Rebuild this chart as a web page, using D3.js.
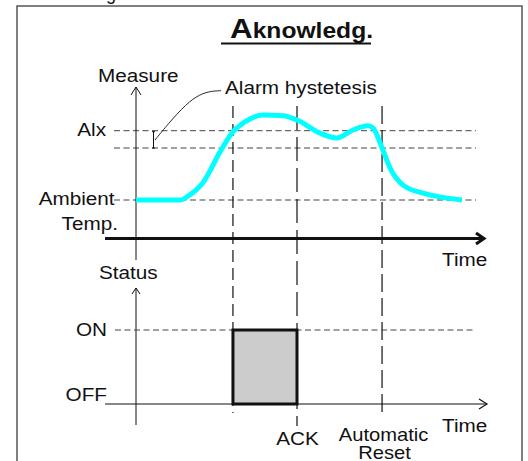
<!DOCTYPE html>
<html lang="en">
<head>
    <meta charset="UTF-8">
    <title>Aknowledg.</title>
    <script src="https://d3js.org/d3.v7.min.js"></script>
    <style>
        body { margin: 0; background: white; }
        text { font-family: "Liberation Sans", Arial, sans-serif; fill: #111; }
        .dash { stroke: #444; stroke-width: 1; stroke-dasharray: 6,3.5; fill: none; }
        .axis { stroke: #111; fill: none; }
    </style>
</head>
<body>
<div id="chart"></div>
<script>
    // measured curve (time units, measure units above ambient)
    const curveT = [0, 12.6, 15.1, 18.9, 24.3, 27.7, 30.6, 36.3, 42.0, 46.0, 52.6, 57.4, 62.0, 66.3, 67.7, 70.3, 72.6, 76.3, 82.0, 86.9, 93.1];
    const curveV = [0, 0, 1.3, 4.7, 14.4, 19.7, 22.2, 24.5, 24.3, 23.1, 19.3, 17.9, 20.2, 21.4, 20.8, 15.0, 9.2, 4.3, 2.0, 0.9, 0];

    // threshold levels
    const levelNames = ["Alx", "", "Ambient"];
    const levelValues = [20, 15, 0];

    // events on the time axis
    const eventT = [27.7, 46, 70.3];
    const eventNames = ["", "ACK", "Automatic"];
    const eventDash = ["12,6", "24,7", "18,6"];

    // status
    const statusNames = ["OFF", "ON"];
    const statusValues = [0, 1];
    const onStart = 27.7, onEnd = 46;

    const width = 528, height = 461;
    const svg = d3.select("#chart").append("svg")
        .attr("width", width).attr("height", height);

    const x = d3.scaleLinear().domain([0, 100]).range([136, 486]);
    const y = d3.scaleLinear().domain([0, 20]).range([200, 130.7]);
    const ys = d3.scaleLinear().domain([0, 1]).range([404, 330]);

    function label(px, py, str, anchor, size) {
        svg.append("text")
            .attr("transform", `translate(${px},${py}) scale(1.12,1)`)
            .attr("text-anchor", anchor || "start")
            .style("font-size", (size || 18.5) + "px")
            .text(str);
    }

    // frame
    svg.append("rect").attr("x", 17).attr("y", 6).attr("width", 505).attr("height", 470)
        .attr("fill", "none").attr("stroke", "#555").attr("stroke-width", 1.5);
    // clipped heading above the frame
    svg.append("text").attr("x", 106).attr("y", 0).style("font-size", "18px").text("g");

    // title
    const title = svg.append("text")
        .attr("transform", "translate(230,38) scale(1.12,1)")
        .style("font-weight", "bold");
    title.append("tspan").style("font-size", "28px").text("A");
    title.append("tspan").style("font-size", "22px").text("knowledg.");
    svg.append("line").attr("x1", 221).attr("x2", 371).attr("y1", 43.5).attr("y2", 43.5)
        .attr("stroke", "#111").attr("stroke-width", 2);

    // horizontal level lines
    levelValues.forEach((v, i) => {
        svg.append("line").attr("class", "dash")
            .attr("x1", 114).attr("x2", 476).attr("y1", y(v)).attr("y2", y(v));
        if (levelNames[i]) label(i === 2 ? 114.6 : 106, y(v) + 5, levelNames[i], "end");
    });
    label(118, y(0) + 30, "Temp.", "end");

    // event lines
    eventT.forEach((t, i) => {
        svg.append("line")
            .attr("x1", x(t)).attr("x2", x(t))
            .attr("y1", 106).attr("y2", i === 1 ? 426 : 413)
            .attr("stroke", "#111").attr("stroke-width", 1.2)
            .attr("stroke-dasharray", eventDash[i]);
    });

    // measure axis
    svg.append("line").attr("class", "axis").attr("x1", x(0)).attr("x2", x(0))
        .attr("y1", 87).attr("y2", 260);
    svg.append("path").attr("class", "axis")
        .attr("d", `M${x(0) - 5},${95} L${x(0)},${87} L${x(0) + 5},${95}`);
    label(98, 82, "Measure");

    // hysteresis bracket and leader
    svg.append("path").attr("class", "axis")
        .attr("d", `M152,${y(20) + 1} L155,${y(20) + 1} M153.5,${y(20) + 1} L153.5,${y(15)} M152,${y(15)} L155,${y(15)}`);
    svg.append("path").attr("class", "axis").attr("stroke-width", 0.9)
        .attr("d", d3.line().curve(d3.curveBasis)([[155, 140], [168, 124], [186, 104], [200, 94], [212, 91], [221, 90.7]]));
    label(225, 93.5, "Alarm hystetesis");

    // measure curve
    svg.append("path")
        .datum(curveT.map((t, i) => [t, curveV[i]]))
        .attr("fill", "none").attr("stroke", "#00ffff").attr("stroke-width", 5)
        .attr("stroke-linejoin", "round")
        .attr("d", d3.line().x(d => x(d[0])).y(d => y(d[1])).curve(d3.curveMonotoneX));

    // time axis 1
    svg.append("line").attr("class", "axis").attr("stroke-width", 3)
        .attr("x1", 105).attr("x2", 484).attr("y1", 238.5).attr("y2", 238.5);
    svg.append("path").attr("class", "axis").attr("stroke-width", 3)
        .attr("d", "M476,233 L484,238.5 L476,244");
    label(442, 266, "Time");

    // status axis
    svg.append("line").attr("class", "axis").attr("x1", x(0)).attr("x2", x(0))
        .attr("y1", 288).attr("y2", 425);
    svg.append("path").attr("class", "axis")
        .attr("d", `M${x(0) - 4},${294} L${x(0)},${288} L${x(0) + 4},${294}`);
    label(99, 279, "Status");

    // status levels
    svg.append("line").attr("class", "dash")
        .attr("x1", 115).attr("x2", 475).attr("y1", ys(1)).attr("y2", ys(1));
    statusValues.forEach((v, i) => label(107, v ? ys(v) + 6 : ys(v) - 3, statusNames[i], "end"));

    // on interval
    svg.append("rect")
        .attr("x", x(onStart)).attr("y", ys(1))
        .attr("width", x(onEnd) - x(onStart)).attr("height", ys(0) - ys(1))
        .attr("fill", "#cccccc").attr("stroke", "#111").attr("stroke-width", 3);

    // time axis 2
    svg.append("line").attr("class", "axis").attr("stroke-width", 1.2)
        .attr("x1", 105).attr("x2", 487).attr("y1", ys(0)).attr("y2", ys(0));
    svg.append("path").attr("class", "axis").attr("stroke-width", 1.2)
        .attr("d", `M479,${ys(0) - 5} L487,${ys(0)} L479,${ys(0) + 5}`);
    label(442, 431.5, "Time");

    // event labels
    label(x(eventT[1]) + 0.5, 445, eventNames[1], "middle");
    label(x(eventT[2]) + 1.5, 441, eventNames[2], "middle", 18);
    label(x(eventT[2]) + 2.5, 459, "Reset", "middle", 18);
</script>
</body>
</html>
